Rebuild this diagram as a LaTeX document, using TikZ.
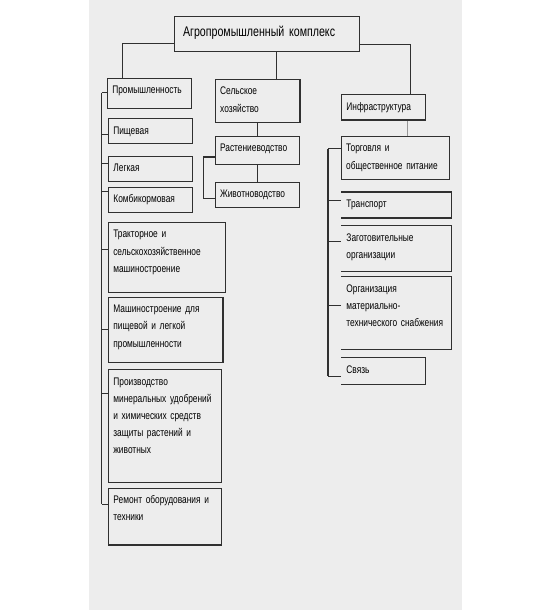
\documentclass[tikz,border=0pt]{standalone}
\usepackage{fontspec}
\setmainfont{Liberation Sans}[FakeStretch=0.76, WordSpace=0.75]
\definecolor{panel}{HTML}{EDEDED}
\definecolor{ink}{HTML}{303030}

\begin{document}
\begin{tikzpicture}[x=1pt,y=-1pt,
  box/.style={draw=ink, line width=0.9pt, anchor=north west, align=left,
    inner xsep=5pt, inner ysep=0pt, text height=15.5pt,
    font=\fontsize{11}{17.2}\selectfont},
  link/.style={draw=ink, line width=0.8pt}]
  \useasboundingbox (0,0) rectangle (549,610);
  \fill[panel] (89,0) rectangle (462,610);

  % top
  \node[box, inner xsep=9pt, text width=167pt, text height=20.5pt, text depth=14.9pt,
        font=\fontsize{14}{15}\selectfont] (top) at (173.6,15.7) {Агропромышленный комплекс};

  % industry
  \node[box, text width=74pt, text depth=14.3pt] (prom) at (106.8,77.7) {Промышленность};
  \node[box, text width=74pt, text depth=9pt] (pi) at (107.8,118.3) {Пищевая};
  \node[box, line width=1.2pt, text width=74pt, text depth=9.3pt] (leg) at (107.8,155.8) {Легкая};
  \node[box, line width=1.2pt, text width=74pt, text depth=9.7pt] (komb) at (107.8,186.6) {Комбикормовая};
  \node[box, text width=107pt, text depth=54.1pt] (trak) at (107.8,222)
    {Тракторное и\\сельскохозяйственное\\машиностроение};
  \node[box, line width=1.2pt, text width=104.5pt, text depth=50pt] (mash) at (107.8,296.5)
    {Машиностроение для\\пищевой и легкой\\промышленности};
  \node[box, line width=1.2pt, text width=103.4pt, text depth=97.5pt] (proizv) at (107.8,369)
    {Производство\\минеральных удобрений\\и химических средств\\защиты растений и\\животных};
  \node[box, line width=1.2pt, text width=103.4pt, text depth=41.2pt] (rem) at (107.8,487.6)
    {Ремонт оборудования и\\техники};

  % agriculture
  \node[box, line width=1.2pt, text width=74.7pt, text depth=27.5pt] (sel) at (214.6,78.8) {Сельское\\хозяйство};
  \node[box, text width=74.7pt, text depth=12.5pt] (rast) at (214.6,135.8) {Растениеводство};
  \node[box, text width=74.7pt, text depth=9.7pt] (zhiv) at (214.6,182) {Животноводство};

  % infrastructure
  \node[box, line width=1.6pt, text width=74pt, text depth=10.1pt] (infra) at (340.6,93.8) {Инфраструктура};
  \node[box, line width=1.2pt, text width=98.1pt, text depth=27.6pt] (torg) at (340.6,135.8)
    {Торговля и\\общественное питание};
  \node[box, draw=none, text width=99.8pt, text depth=9.5pt] (tr) at (341,192) {Транспорт};
  \node[box, draw=none, text width=99.8pt, text depth=28.9pt] (zag) at (341,225.8)
    {Заготовительные\\организации};
  \node[box, draw=none, text width=99.8pt, text depth=56.3pt] (org) at (341,276.5)
    {Организация\\материально-\\технического снабжения};
  \node[box, draw=none, text width=73.6pt, text depth=10.1pt] (sv) at (341,357.7) {Связь};
  \foreach \n in {tr,zag,org,sv}
    \draw[link, line width=1.2pt] (\n.north west) -| (\n.south east) -- (\n.south west);

  % links from the top box
  \draw[link] (top.west |- 0,43) -| (prom.north -| 122,0);
  \draw[link] (top.east |- 0,44) -| (infra.north -| 410.6,0);
  \draw[link, line width=1.1pt] (top.south -| 276.5,0) -- (sel.north -| 276.5,0);
  \draw[link] (sel) -- (rast);
  \draw[link] (rast) -- (zhiv);
  \draw[link, draw=ink!50, line width=0.5pt] (infra.south -| 407,0) -- (torg.north -| 407,0);

  % left bus
  \coordinate (lbus) at (101.5,92.8);
  \coordinate (lend) at (101.5,504);
  \draw[link, line width=1.2pt] (lbus) -- (lend);
  \foreach \n/\y in {prom/92.8, pi/134.8, leg/163.8, komb/191.8, trak/249,
                     mash/329, proizv/393, rem/504}
    \draw[link] (lbus |- 0,\y) -- (\n.west |- 0,\y);

  % middle bracket
  \coordinate (mbus) at (203.4,157);
  \coordinate (mend) at (203.4,198.5);
  \draw[link, line width=0.5pt] (mbus) -- (mend);
  \foreach \n/\y in {rast/157, zhiv/198.5}
    \draw[link, line width=1.1pt] (mbus |- 0,\y) -- (\n.west |- 0,\y);

  % right bus
  \coordinate (rbus) at (328,148.8);
  \coordinate (rend) at (328,376.3);
  \draw[link, line width=1.1pt] (rbus) -- (rend);
  \foreach \n/\y in {torg/148.8, tr/200.6, zag/241.5, sv/376.3}
    \draw[link] (rbus |- 0,\y) -- (\n.west |- 0,\y);
  \draw[link, line width=1.6pt] (rbus |- 0,305.6) -- (org.west |- 0,305.6);
\end{tikzpicture}
\end{document}
